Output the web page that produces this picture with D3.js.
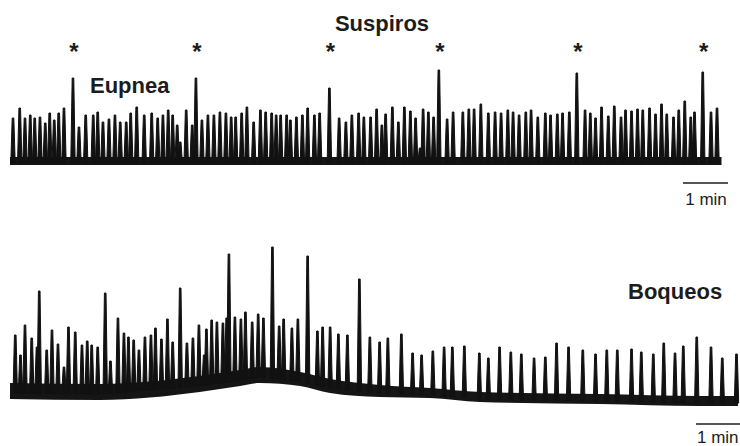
<!DOCTYPE html>
<meta charset="utf-8">
<style>
    body {
        margin: 0;
        background: #fff;
    }

    svg {
        display: block;
        font-family: "Liberation Sans", Arial, sans-serif;
    }

    .label {
        font-weight: bold;
        font-size: 22px;
        fill: #1c1c1c;
    }

    .star {
        font-weight: bold;
        font-size: 24px;
        fill: #1c1c1c;
        text-anchor: middle;
    }

    .bar text {
        font-size: 17px;
        fill: #1c1c1c;
    }

    .bar line {
        stroke: #1c1c1c;
        stroke-width: 1.6px;
    }

    .spike {
        fill: #111;
        stroke: #111;
        stroke-width: 1px;
        stroke-linejoin: round;
    }

    .band {
        fill: #151515;
    }
</style>

<body>
    <script src="https://cdnjs.cloudflare.com/ajax/libs/d3/7.8.5/d3.min.js"></script>

    <script>

        // Eupnea trace: burst times (s) and peak amplitude (a.u.)
        var eupneaTime = [4, 13, 20, 27, 33, 40, 47, 53, 59, 65, 72, 84, 92, 101, 111, 117, 124, 132, 140, 147,
            155, 161, 169, 179, 189, 197, 204, 211, 217, 223, 227, 235, 243, 248, 256, 264, 272, 280, 288, 295,
            301, 309, 316, 325, 334, 341, 349, 355, 361, 369, 374, 382, 390, 397, 406, 413, 426, 439, 448, 456,
            465, 472, 481, 489, 496, 501, 510, 518, 526, 534, 541, 547, 551, 558, 565, 572, 583, 591, 604, 612,
            619, 628, 638, 647, 655, 664, 671, 679, 688, 695, 704, 714, 721, 730, 737, 746, 756, 767, 774, 781,
            789, 798, 806, 815, 821, 829, 837, 844, 853, 861, 869, 876, 885, 892, 900, 908, 913, 924, 935, 943];
        var eupneaAmp = [43, 53, 43, 46, 43, 44, 38, 48, 41, 48, 53, 83, 34, 46, 46, 49, 39, 42, 46, 39,
            39, 48, 54, 46, 48, 43, 46, 51, 46, 36, 19, 51, 36, 83, 41, 46, 46, 49, 48, 44,
            44, 48, 54, 39, 51, 49, 48, 46, 46, 46, 41, 44, 46, 53, 46, 48, 73, 43, 39, 46,
            48, 44, 44, 52, 36, 47, 54, 39, 54, 50, 43, 13, 52, 49, 44, 91, 42, 49, 49, 52,
            52, 57, 48, 49, 48, 51, 49, 46, 49, 51, 44, 48, 46, 47, 48, 49, 88, 51, 48, 43,
            54, 45, 55, 44, 51, 50, 52, 51, 53, 47, 57, 47, 44, 51, 60, 44, 49, 89, 49, 53];
        var eupneaBaseTime = [0, 949];
        var eupneaBaseLevel = [0, 0];
        var eupneaNoise = [4, 4];

        // sighs (suspiros) marked with an asterisk
        var suspiroTime = [84, 248, 426, 572, 756, 924];

        // Gasping trace: burst times (s), peak level (a.u.), drifting baseline
        var gaspTime = [7, 14, 20, 29, 36, 39, 49, 56, 64, 72, 78, 87, 96, 103, 109, 117, 127, 134, 144, 152,
            158, 165, 172, 180, 188, 194, 202, 210, 217, 227, 236, 244, 252, 259, 262, 269, 276, 284, 289, 292,
            300, 308, 314, 323, 331, 338, 350, 359, 365, 376, 384, 397, 410, 417, 427, 438, 450, 466, 480, 493,
            504, 522, 537, 549, 564, 579, 590, 606, 626, 638, 653, 668, 682, 699, 714, 729, 745, 764, 781, 796,
            810, 829, 842, 858, 872, 887, 898, 916, 935, 950, 969];
        var gaspLevel = [66, 46, 76, 63, 54, 110, 51, 71, 57, 34, 74, 69, 56, 60, 56, 54, 108, 40, 83, 68,
            64, 61, 51, 64, 66, 73, 62, 82, 59, 113, 58, 63, 76, 46, 72, 81, 79, 78, 83, 147,
            84, 82, 89, 79, 87, 83, 154, 75, 82, 73, 82, 145, 70, 74, 74, 67, 66, 122, 64, 59,
            63, 67, 48, 46, 50, 54, 54, 55, 48, 43, 54, 49, 47, 43, 44, 58, 54, 51, 47, 51,
            51, 52, 49, 47, 58, 48, 55, 64, 54, 43, 47];
        var gaspBaseTime = [0, 120, 253, 307, 333, 387, 427, 493, 560, 627, 787, 920, 971];
        var gaspBaseLevel = [10, 9, 17, 23, 26, 22, 15, 10, 8, 4, 2, 0, 0];
        var gaspNoise = [8, 8, 8, 8, 8, 7, 7, 6, 5, 5, 5, 5, 5];

        var width = 740,
            height = 446;

        var svg = d3.select("body").append("svg")
            .attr("width", width)
            .attr("height", height);

        var x = d3.scaleLinear().domain([0, 971]).range([10, 738]);
        var yTop = d3.scaleLinear().domain([0, 100]).range([161, 61]);
        var yBot = d3.scaleLinear().domain([0, 100]).range([401, 301]);

        function drawTrace(times, peaks, baseTime, baseLevel, noise, y) {
            var base = d3.scaleLinear().domain(baseTime).range(baseLevel);
            var g = svg.append("g");

            var band = d3.area()
                .x(function (d) { return x(d[0]); })
                .y0(function (d) { return y(d[1]) + d[2]; })
                .y1(function (d) { return y(d[1]) - d[2]; })
                .curve(d3.curveMonotoneX);

            g.append("path")
                .attr("class", "band")
                .attr("d", band(d3.zip(baseTime, baseLevel, noise)));

            g.selectAll("path.spike")
                .data(d3.zip(times, peaks))
                .enter().append("path")
                .attr("class", "spike")
                .attr("d", function (d) {
                    var px = x(d[0]),
                        yb = y(base(d[0])) + 2,
                        yp = y(d[1]);
                    var p = d3.path();
                    p.moveTo(px - 2.2, yb);
                    p.lineTo(px - 0.8, yp);
                    p.lineTo(px + 0.8, yp);
                    p.lineTo(px + 2.2, yb);
                    p.closePath();
                    return p.toString();
                });
        }

        drawTrace(eupneaTime, eupneaAmp, eupneaBaseTime, eupneaBaseLevel, eupneaNoise, yTop);
        drawTrace(gaspTime, gaspLevel, gaspBaseTime, gaspBaseLevel, gaspNoise, yBot);

        // labels
        svg.append("text").attr("class", "label")
            .attr("x", 382).attr("y", 31).attr("text-anchor", "middle")
            .text("Suspiros");

        svg.selectAll("text.star")
            .data(suspiroTime)
            .enter().append("text")
            .attr("class", "star")
            .attr("x", function (d) { return x(d) + 1; })
            .attr("y", 60)
            .text("*");

        svg.append("text").attr("class", "label")
            .attr("x", 90).attr("y", 93)
            .text("Eupnea");

        svg.append("text").attr("class", "label")
            .attr("x", 628).attr("y", 299)
            .text("Boqueos");

        // 1 min scale bars
        function scaleBar(xEnd, yLine, textX, textY, anchor) {
            var len = x(60) - x(0);
            var g = svg.append("g").attr("class", "bar");
            g.append("line")
                .attr("x1", xEnd - len).attr("x2", xEnd)
                .attr("y1", yLine).attr("y2", yLine);
            g.append("text")
                .attr("x", textX).attr("y", textY)
                .attr("text-anchor", anchor)
                .text("1 min");
        }

        scaleBar(728, 183, 706, 205, "middle");
        scaleBar(741, 424, 697, 443, "start");

    </script>

</body>

</html>
